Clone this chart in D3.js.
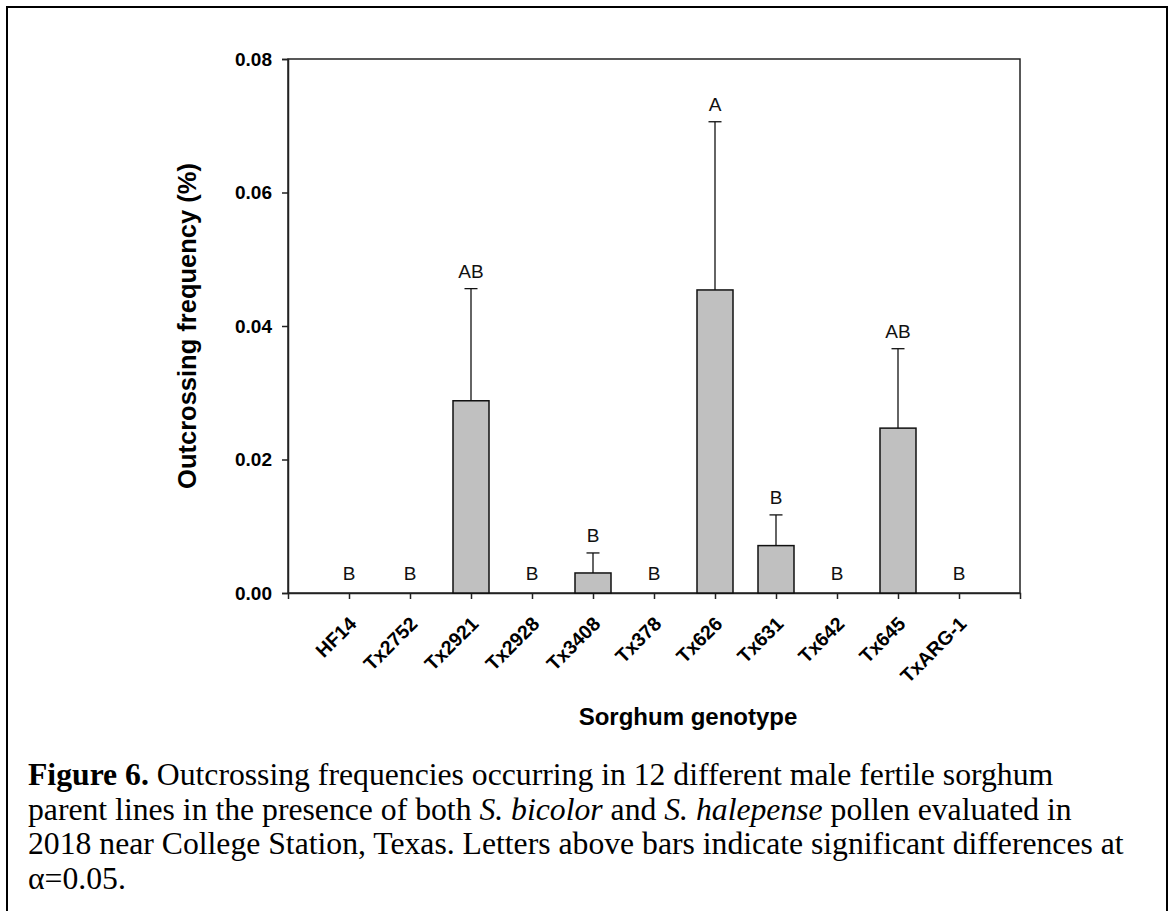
<!DOCTYPE html>
<html>
<head>
<meta charset="utf-8">
<script src="https://cdn.jsdelivr.net/npm/d3@7"></script>
<style>
  html, body { margin: 0; padding: 0; background: #fff; }
  svg { display: block; }
</style>
</head>
<body>
<svg id="chart" width="1171" height="911"></svg>
<script>
// ---- data ----
const categories = ["HF14", "Tx2752", "Tx2921", "Tx2928", "Tx3408", "Tx378", "Tx626", "Tx631", "Tx642", "Tx645", "TxARG-1"];
const means  = [0, 0, 0.0288, 0, 0.0030, 0, 0.0454, 0.0071, 0, 0.0247, 0];
const errors = [0, 0, 0.0168, 0, 0.0030, 0, 0.0252, 0.0046, 0, 0.0119, 0];
const letters = ["B", "B", "AB", "B", "B", "B", "A", "B", "B", "AB", "B"];
const yTicks = [0, 0.02, 0.04, 0.06, 0.08];
const yTickLabels = ["0.00", "0.02", "0.04", "0.06", "0.08"];
const xTitle = "Sorghum genotype";
const yTitle = "Outcrossing frequency (%)";

const rows = categories.map((c, i) => ({ cat: c, mean: means[i], err: errors[i], letter: letters[i] }));

// ---- layout ----
const svg = d3.select("#chart");
const plot = { left: 288, right: 1020, top: 59, bottom: 593 };
const sans = "Arial, 'Liberation Sans', sans-serif";
const serif = "'Times New Roman', 'Liberation Serif', serif";

// outer frame
svg.append("rect")
  .attr("x", 7).attr("y", 7).attr("width", 1160).attr("height", 940)
  .attr("fill", "none").attr("stroke", "#000").attr("stroke-width", 2);

const x = d3.scalePoint().domain(categories).range([plot.left, plot.right]).padding(1);
const y = d3.scaleLinear().domain([0, 0.08]).range([plot.bottom, plot.top]);
const barW = 36;

// plot frame
svg.append("rect")
  .attr("x", plot.left).attr("y", plot.top)
  .attr("width", plot.right - plot.left).attr("height", plot.bottom - plot.top)
  .attr("fill", "none").attr("stroke", "#222").attr("stroke-width", 1.5);

// axes
const yAxis = d3.axisLeft(y).tickValues(yTicks).tickSize(6).tickPadding(10)
  .tickFormat((d, i) => yTickLabels[i]);
const gy = svg.append("g").attr("transform", `translate(${plot.left},0)`).call(yAxis);
gy.select(".domain").attr("stroke", "#222").attr("stroke-width", 1.5);
gy.selectAll(".tick line").attr("stroke", "#222").attr("stroke-width", 1.5);
gy.selectAll(".tick text")
  .attr("font-family", sans).attr("font-size", 19).attr("font-weight", "bold").attr("fill", "#000");

const xAxis = d3.axisBottom(x).tickSize(6).tickPadding(4);
const gx = svg.append("g").attr("transform", `translate(0,${plot.bottom})`).call(xAxis);
gx.select(".domain").attr("stroke", "#222").attr("stroke-width", 1.5);
gx.selectAll(".tick line").attr("stroke", "#222").attr("stroke-width", 1.5);
gx.selectAll(".tick text")
  .attr("font-family", sans).attr("font-size", 19.5).attr("font-weight", "bold").attr("fill", "#000")
  .attr("text-anchor", "end")
  .attr("dy", "0")
  .attr("transform", "translate(1,25) rotate(-45)");

// bars
svg.append("g").selectAll("rect")
  .data(rows.filter(d => d.mean > 0))
  .join("rect")
  .attr("x", d => x(d.cat) - barW / 2)
  .attr("y", d => y(d.mean))
  .attr("width", barW)
  .attr("height", d => y(0) - y(d.mean))
  .attr("fill", "#c0c0c0")
  .attr("stroke", "#111")
  .attr("stroke-width", 1.5);

// error bars (upper only)
const eb = svg.append("g").attr("stroke", "#111").attr("stroke-width", 1.3);
rows.filter(d => d.err > 0).forEach(d => {
  eb.append("line")
    .attr("x1", x(d.cat)).attr("x2", x(d.cat))
    .attr("y1", y(d.mean)).attr("y2", y(d.mean + d.err));
  eb.append("line")
    .attr("x1", x(d.cat) - 6.5).attr("x2", x(d.cat) + 6.5)
    .attr("y1", y(d.mean + d.err)).attr("y2", y(d.mean + d.err));
});

// letters
svg.append("g").selectAll("text")
  .data(rows)
  .join("text")
  .attr("x", d => x(d.cat))
  .attr("y", d => d.err > 0 ? y(d.mean + d.err) - 11 : y(0) - 13)
  .attr("text-anchor", "middle")
  .attr("font-family", sans).attr("font-size", 19).attr("fill", "#111")
  .text(d => d.letter);

// axis titles
svg.append("text")
  .attr("x", 688).attr("y", 725)
  .attr("text-anchor", "middle")
  .attr("font-family", sans).attr("font-size", 24).attr("font-weight", "bold")
  .text(xTitle);

svg.append("text")
  .attr("transform", "translate(196,326) rotate(-90)")
  .attr("text-anchor", "middle")
  .attr("font-family", sans).attr("font-size", 25.5).attr("font-weight", "bold")
  .text(yTitle);

// caption
const capLines = [
  [{ t: "Figure 6.", b: true }, { t: " Outcrossing frequencies occurring in 12 different male fertile sorghum" }],
  [{ t: "parent lines in the presence of both " }, { t: "S. bicolor", i: true }, { t: " and " }, { t: "S. halepense", i: true }, { t: " pollen evaluated in" }],
  [{ t: "2018 near College Station, Texas. Letters above bars indicate significant differences at" }],
  [{ t: "\u03b1=0.05." }]
];
const cap = svg.append("g").attr("font-family", serif).attr("font-size", 31.7).attr("fill", "#000");
capLines.forEach((line, li) => {
  const t = cap.append("text").attr("x", 28).attr("y", 785 + li * 34.5);
  line.forEach(seg => {
    t.append("tspan")
      .attr("font-weight", seg.b ? "bold" : "normal")
      .attr("font-style", seg.i ? "italic" : "normal")
      .text(seg.t);
  });
});
</script>
</body>
</html>
